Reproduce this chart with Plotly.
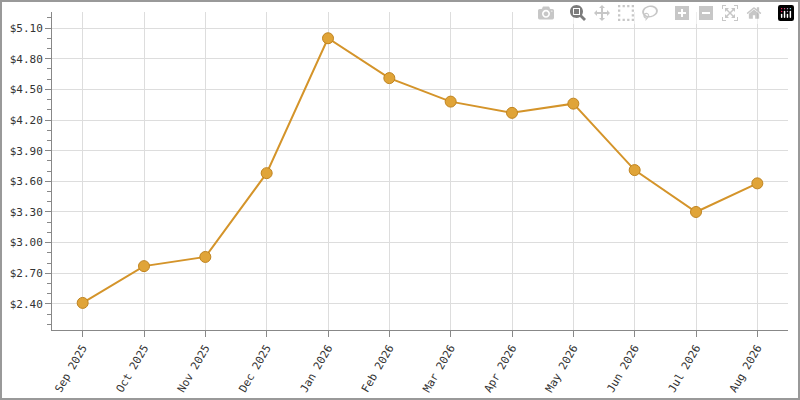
import plotly.graph_objects as go

months = ["Sep 2025","Oct 2025","Nov 2025","Dec 2025","Jan 2026","Feb 2026",
          "Mar 2026","Apr 2026","May 2026","Jun 2026","Jul 2026","Aug 2026"]
prices = [2.41, 2.77, 2.86, 3.68, 5.00, 4.61, 4.38, 4.27, 4.36, 3.71, 3.30, 3.58]
yticks = [2.40, 2.70, 3.00, 3.30, 3.60, 3.90, 4.20, 4.50, 4.80, 5.10]

fig = go.Figure(go.Scatter(
    x=list(range(len(months))), y=prices, mode="lines+markers",
    line=dict(color="#D4942A", width=2),
    marker=dict(size=11, color="#E0A438", line=dict(color="#C08420", width=1)),
))
fig.update_layout(
    width=800, height=400, margin=dict(l=52, r=12, t=12, b=70, autoexpand=False),
    plot_bgcolor="white", paper_bgcolor="white", showlegend=False,
    font=dict(family="DejaVu Sans Mono", size=11, color="#333"),
)
fig.update_xaxes(range=[-0.5, 11.5], tickvals=list(range(len(months))), ticktext=months,
                 tickangle=-60, showgrid=True, gridcolor="#DDDDDD", showline=True,
                 linecolor="#888", ticks="outside", ticklen=6, tickcolor="#888", zeroline=False,
                 automargin=False)
fig.update_yaxes(range=[2.145, 5.257], tickvals=yticks, ticktext=[f"${v:.2f}" for v in yticks],
                 showgrid=True, gridcolor="#DDDDDD", showline=True, linecolor="#888",
                 ticks="outside", ticklen=6, tickcolor="#888", zeroline=False, automargin=False,
                 minor=dict(dtick=0.1, tick0=2.4, ticks="outside", ticklen=4, tickcolor="#888", showgrid=False))
fig.add_shape(type="rect", xref="paper", yref="paper", x0=-51/736, x1=1+11/736,
              y0=-69/318, y1=1+11/318, line=dict(color="#999", width=2))
fig.write_html("out.html",
               post_script="document.body.style.margin='0';document.body.style.overflow='hidden';")
